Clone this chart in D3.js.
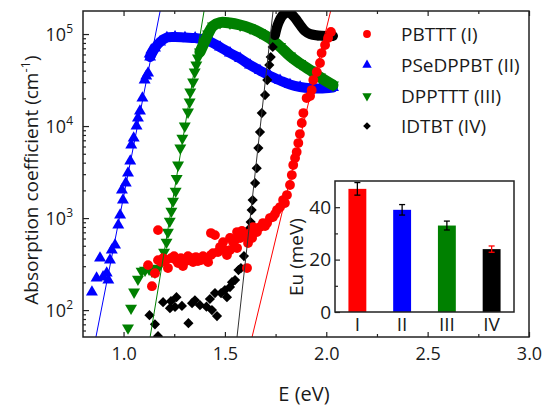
<!DOCTYPE html>
<html><head><meta charset="utf-8">
<script src="https://cdn.jsdelivr.net/npm/d3@7"></script>
<style>
body{margin:0;background:#fff}
svg{display:block}
text{font-family:"Open Sans",sans-serif;fill:#1a1a1a}
</style>
</head><body>
<svg id="c" width="546" height="408"></svg>
<script>
// ---------- DATA ----------
// Each point: [E (eV), absorption coefficient (cm^-1)]
const pbtttPoints = [[1.121,308],[1.140,182],[1.155,252],[1.170,740],[1.170,349],[1.185,332],[1.195,367],[1.209,349],[1.219,286],[1.234,367],[1.249,386],[1.259,349],[1.269,324],[1.283,367],[1.293,301],[1.308,341],[1.318,386],[1.333,367],[1.343,332],[1.357,377],[1.367,341],[1.382,349],[1.392,386],[1.407,367],[1.417,332],[1.431,396],[1.431,687],[1.441,416],[1.451,653],[1.466,427],[1.476,484],[1.491,548],[1.500,449],[1.510,396],[1.525,607],[1.525,449],[1.540,548],[1.550,577],[1.560,705],[1.560,472],[1.575,607],[1.584,723],[1.599,637],[1.609,286],[1.614,535],[1.624,687],[1.634,607],[1.639,798],[1.648,740],[1.658,705],[1.673,798],[1.688,883],[1.698,818],[1.708,883],[1.722,1000],[1.737,1026],[1.747,1105],[1.757,1222],[1.772,1316],[1.787,1570],[1.796,1455],[1.806,1778],[1.821,2286],[1.830,2931],[1.837,3767],[1.846,4487],[1.854,5212],[1.862,6531],[1.870,8185],[1.879,10790],[1.887,13840],[1.903,20140],[1.920,21180],[1.928,24600],[1.936,31620],[1.953,38640],[1.969,48400],[1.977,62100],[1.994,75900],[2.009,90600],[2.023,105200]];

const psedppbtPoints = [[0.844,157],[0.867,223],[0.884,367],[0.899,229],[0.917,252],[0.925,212],[0.933,349],[0.942,449],[0.958,508],[0.974,839],[0.983,1079],[0.992,2014],[0.997,1570],[1.011,2399],[1.022,3083],[1.033,4160],[1.038,6209],[1.050,7396],[1.064,9980],[1.071,12200],[1.081,14560],[1.093,20140],[1.104,31620],[1.112,34940],[1.121,37640],[1.129,60680],[1.137,67000]];
const psedppbtDense = [[1.131,56200],[1.155,70400],[1.180,81900],[1.214,91600],[1.254,92800],[1.303,91600],[1.353,90500],[1.402,86000],[1.436,80800],[1.476,72200],[1.525,62200],[1.575,54200],[1.624,46000],[1.673,40100],[1.723,34950],[1.772,31250],[1.821,28250],[1.871,26550],[1.920,25700],[1.969,25560],[2.033,26200]];

const dppttPoints = [[1.022,64],[1.037,105],[1.052,157],[1.071,217],[1.089,265],[1.106,272],[1.126,279],[1.140,265],[1.155,259],[1.170,286],[1.185,332],[1.200,427],[1.212,548],[1.219,704],[1.228,927],[1.236,1191],[1.244,1530],[1.257,1965],[1.262,2700],[1.269,3770],[1.280,5770],[1.290,7400],[1.302,10000],[1.318,14190],[1.326,18230],[1.329,23440],[1.343,30080],[1.351,38640],[1.359,46030],[1.367,54830]];
const dppttDense = [[1.377,63700],[1.397,79800],[1.417,100000],[1.441,122200],[1.476,133400],[1.525,131800],[1.575,125400],[1.624,116200],[1.673,103800],[1.723,89300],[1.772,73100],[1.821,57700],[1.871,47800],[1.920,40600],[1.969,34100],[2.033,27900]];

const idtbtPoints = [[1.128,88],[1.155,70],[1.170,52],[1.195,122],[1.229,105],[1.234,125],[1.254,108],[1.261,138],[1.288,111],[1.320,72],[1.338,119],[1.352,128],[1.377,113],[1.409,109],[1.426,132],[1.436,100],[1.451,153],[1.461,86],[1.481,153],[1.500,165],[1.510,138],[1.525,178],[1.535,201],[1.550,212],[1.567,272],[1.579,286],[1.594,386],[1.609,607],[1.619,759],[1.627,904],[1.632,1222],[1.637,1570],[1.649,2400],[1.657,3490],[1.665,5770],[1.673,8610],[1.682,13840],[1.698,21730],[1.709,31620],[1.719,46030],[1.726,56230],[1.736,72260]];
const idtbtDense = [[1.747,97500],[1.762,128500],[1.782,157000],[1.801,169000],[1.821,169000],[1.846,149200],[1.871,125400],[1.895,107900],[1.920,100000],[1.959,96300],[2.009,95100],[2.033,95100]];

// Urbach fit lines (two end points each)
const fitI   = [[1.628,45],[2.027,2e5]];
const fitII  = [[0.859,45],[1.185,2e5]];
const fitIII = [[1.127,45],[1.401,2e5]];
const fitIV  = [[1.557,45],[1.740,2e5]];

const legendLabels = ["PBTTT (I)","PSeDPPBT (II)","DPPTTT (III)","IDTBT (IV)"];

const xTicks = [1.0,1.5,2.0,2.5,3.0];
const xMinorTicks = [1.25,1.75,2.25,2.75];
const yTicks = [1e2,1e3,1e4,1e5];
const yTickExp = ["2","3","4","5"];

// Inset: Urbach energy
const insetCats = ["I","II","III","IV"];
const insetEu = [47,39,33,24];
const insetErr = [2.4,2.0,1.7,1.2];
const insetTicks = [0,20,40];
const insetMinor = [10,30];

// ---------- STYLE ----------
const RED="#ff0000", BLUE="#0000ff", GREEN="#008000", BLACK="#000000";
const insetColors=[RED,BLUE,GREEN,BLACK];
const errColors=[BLACK,BLACK,BLACK,RED];
const AX="#222";

const svg = d3.select("#c");
svg.append("rect").attr("width",546).attr("height",408).attr("fill","#fff");

const L=83,R=529,T=11,B=337;
const x = d3.scaleLinear().domain([0.8,3.0]).range([L,R]);
const y = d3.scaleLog().domain([51,1.78e5]).range([B,T]);

svg.append("defs").append("clipPath").attr("id","plotclip")
  .append("rect").attr("x",L).attr("y",T).attr("width",R-L).attr("height",B-T);

const plot = svg.append("g").attr("clip-path","url(#plotclip)");

const line = d3.line().x(d=>x(d[0])).y(d=>y(d[1])).curve(d3.curveCatmullRom);
const sym = (type,size)=>d3.symbol().type(type).size(size)();

function drawSeries(points,dense,color,type,size,rot,bandW){
  const g = plot.append("g");
  if(dense){
    g.append("path").datum(dense).attr("d",line).attr("fill","none")
      .attr("stroke",color).attr("stroke-width",bandW)
      .attr("stroke-linejoin","round").attr("stroke-linecap","round");
    g.selectAll("path.dm").data(dense).join("path").attr("class","dm")
      .attr("d",sym(type,size))
      .attr("transform",d=>`translate(${x(d[0])},${y(d[1])}) rotate(${rot})`)
      .attr("fill",color);
  }
  g.selectAll("path.pm").data(points).join("path").attr("class","pm")
    .attr("d",sym(type,size))
    .attr("transform",d=>`translate(${x(d[0])},${y(d[1])}) rotate(${rot})`)
    .attr("fill",color);
}

drawSeries(psedppbtPoints,psedppbtDense,BLUE,d3.symbolTriangle,62,0,10);
drawSeries(dppttPoints,dppttDense,GREEN,d3.symbolTriangle,62,180,11);
drawSeries(idtbtPoints,idtbtDense,BLACK,d3.symbolSquare,52,45,10);
drawSeries(pbtttPoints,null,RED,d3.symbolCircle,76,0,0);

const straight = d3.line().x(d=>x(d[0])).y(d=>y(d[1]));
[[fitI,RED],[fitII,BLUE],[fitIII,GREEN],[fitIV,"#333"]].forEach(([f,c])=>{
  plot.append("path").datum(f).attr("d",straight).attr("fill","none")
    .attr("stroke",c).attr("stroke-width",1);
});

// ---------- AXES ----------
const fmt = d3.format(".1f");
const xb = svg.append("g").attr("transform",`translate(0,${B})`)
  .call(d3.axisBottom(x).tickValues(xTicks).tickSize(-5).tickPadding(10).tickFormat(fmt));
svg.append("g").attr("transform",`translate(0,${B})`)
  .call(d3.axisBottom(x).tickValues(xMinorTicks).tickSize(-3).tickFormat(""));
svg.append("g").attr("transform",`translate(0,${T})`)
  .call(d3.axisTop(x).tickValues(xTicks).tickSize(-5).tickFormat(""));
svg.append("g").attr("transform",`translate(0,${T})`)
  .call(d3.axisTop(x).tickValues(xMinorTicks).tickSize(-3).tickFormat(""));

const yMinor = [];
[10,100,1000,10000,100000].forEach(d=>{for(let k=2;k<=9;k++){const v=d*k; if(v>51&&v<1.78e5) yMinor.push(v);}});
svg.append("g").attr("transform",`translate(${L},0)`)
  .call(d3.axisLeft(y).tickValues(yTicks).tickSize(-6).tickFormat(""));
svg.append("g").attr("transform",`translate(${L},0)`)
  .call(d3.axisLeft(y).tickValues(yMinor).tickSize(-3).tickFormat(""));

svg.selectAll(".domain").remove();
svg.selectAll(".tick line").attr("stroke",AX).attr("stroke-width",1.2);
xb.selectAll("text").attr("font-size",18).attr("font-family","Open Sans").attr("fill","#1a1a1a");

// y tick labels with superscripts
yTicks.forEach((v,i)=>{
  const t = svg.append("text").attr("x",73).attr("y",y(v)+6.5)
    .attr("text-anchor","end").attr("font-size",18);
  t.append("tspan").text("10");
  t.append("tspan").attr("font-size",12).attr("dy",-8).text(yTickExp[i]);
});

// frame
svg.append("rect").attr("x",L).attr("y",T).attr("width",R-L).attr("height",B-T)
  .attr("fill","none").attr("stroke",AX).attr("stroke-width",1.5);

// axis titles
svg.append("text").attr("x",304).attr("y",401).attr("text-anchor","middle")
  .attr("font-size",20).text("E (eV)");
const yl = svg.append("text").attr("transform","translate(38,180) rotate(-90)")
  .attr("text-anchor","middle").attr("font-size",19);
yl.append("tspan").text("Absorption coefficient (cm");
yl.append("tspan").attr("font-size",13).attr("dy",-8).text("-1");
yl.append("tspan").attr("dy",8).text(")");

// ---------- LEGEND ----------
const legSyms = [[d3.symbolCircle,48,0,RED],[d3.symbolTriangle,38,0,BLUE],[d3.symbolTriangle,38,180,GREEN],[d3.symbolSquare,30,45,BLACK]];
const legY = [34,65,96,126];
legendLabels.forEach((lab,i)=>{
  const [tp,sz,rot,c]=legSyms[i];
  svg.append("path").attr("d",sym(tp,sz))
    .attr("transform",`translate(367,${legY[i]}) rotate(${rot})`).attr("fill",c);
  svg.append("text").attr("x",401).attr("y",legY[i]+7).attr("font-size",19).text(lab);
});

// ---------- INSET ----------
const iL=335,iR=514,iT=181,iB=312;
const xi = d3.scaleBand().domain(insetCats).range([iL,iR]).paddingInner(0.6).paddingOuter(0.3);
const yi = d3.scaleLinear().domain([0,50]).range([iB,iT]);
svg.append("rect").attr("x",iL).attr("y",iT).attr("width",iR-iL).attr("height",iB-iT).attr("fill","#fff");
svg.selectAll("rect.bar").data(insetEu).join("rect").attr("class","bar")
  .attr("x",(d,i)=>xi(insetCats[i])).attr("width",xi.bandwidth())
  .attr("y",d=>yi(d)).attr("height",d=>iB-yi(d))
  .attr("fill",(d,i)=>insetColors[i]);
insetEu.forEach((v,i)=>{
  const cx = xi(insetCats[i])+xi.bandwidth()/2;
  const g = svg.append("g").attr("stroke",errColors[i]).attr("stroke-width",1.3);
  g.append("line").attr("x1",cx).attr("x2",cx).attr("y1",yi(v+insetErr[i])).attr("y2",yi(v-insetErr[i]));
  g.append("line").attr("x1",cx-3).attr("x2",cx+3).attr("y1",yi(v+insetErr[i])).attr("y2",yi(v+insetErr[i]));
  g.append("line").attr("x1",cx-3).attr("x2",cx+3).attr("y1",yi(v-insetErr[i])).attr("y2",yi(v-insetErr[i]));
});
const ia = svg.append("g").attr("transform",`translate(${iL},0)`)
  .call(d3.axisLeft(yi).tickValues(insetTicks).tickSize(-5).tickPadding(4));
svg.append("g").attr("transform",`translate(${iL},0)`)
  .call(d3.axisLeft(yi).tickValues(insetMinor).tickSize(-3).tickFormat(""));
const ib = svg.append("g").attr("transform",`translate(0,${iB})`)
  .call(d3.axisBottom(xi).tickSize(0).tickPadding(5));
svg.selectAll(".domain").remove();
svg.selectAll(".tick line").attr("stroke",AX).attr("stroke-width",1.2);
ia.selectAll("text").attr("font-size",19).attr("font-family","Open Sans").attr("fill","#1a1a1a");
ib.selectAll("text").attr("font-size",19).attr("font-family","Open Sans").attr("fill","#1a1a1a");
svg.append("rect").attr("x",iL).attr("y",iT).attr("width",iR-iL).attr("height",iB-iT)
  .attr("fill","none").attr("stroke",AX).attr("stroke-width",1.5);
svg.append("text").attr("transform","translate(303,257) rotate(-90)")
  .attr("text-anchor","middle").attr("font-size",19).text("Eu (meV)");
</script>
</body></html>
